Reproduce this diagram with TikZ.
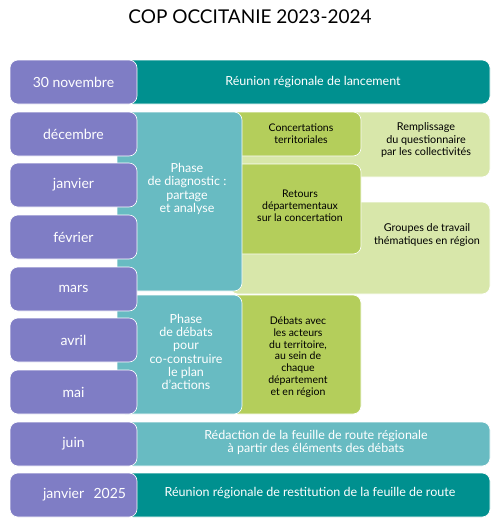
\documentclass[tikz,border=0pt]{standalone}
\usepackage{fontspec}
\setmainfont{Lato}
\definecolor{monthblue}{HTML}{7F7DC5}
\definecolor{darkteal}{HTML}{00908F}
\definecolor{lightteal}{HTML}{68BBC2}
\definecolor{leafgreen}{HTML}{B4CE5B}
\definecolor{palegreen}{HTML}{D8E7AA}
\begin{document}
\begin{tikzpicture}[x=1pt, y=-1pt]
    \tikzstyle{box} = [rectangle, rounded corners=8pt, draw=white, line width=0.6pt, inner sep=0pt]
    \tikzstyle{month} = [box, fill=monthblue, minimum width=127pt, minimum height=44pt, text=white, font=\fontsize{14}{16}\selectfont]
    \tikzstyle{bar} = [box, minimum width=365pt, minimum height=44pt]
    \tikzstyle{phase} = [box, fill=lightteal, minimum width=125pt]
    \tikzstyle{action} = [box, fill=leafgreen, minimum width=131pt]
    \tikzstyle{task} = [box, fill=palegreen, minimum width=260pt]
    \tikzstyle{whitetext} = [text=white, align=center, font=\fontsize{12.5}{13}\selectfont]
    \tikzstyle{blacktext} = [text=black, align=center, font=\fontsize{10.5}{11.8}\selectfont]

    \useasboundingbox (0,0) rectangle (500,531);
    \node [font=\fontsize{19}{22}\selectfont] (title) at (250,17) {COP OCCITANIE 2023-2024};

    % Pale green tasks (behind)
    \node [task, minimum height=65pt] (rempl) at (360,144.5) {};
    \node [task, minimum height=92pt] (groupes) at (360,248) {};
    \node [blacktext, font=\fontsize{10.8}{12.5}\selectfont] (rempltext) at (426,140) {Remplissage\\du questionnaire\\par les collectivités};
    \node [blacktext, font=\fontsize{10.8}{12.5}\selectfont] (groupestext) at (427,235) {Groupes de travail\\thématiques en région};

    % Green actions
    \node [action, minimum height=44pt] (concert) at (295.5,134) {};
    \node [action, minimum height=90pt] (retours) at (295.5,209) {};
    \node [action, minimum height=119pt] (debats) at (295.5,354.5) {};
    \node [blacktext] (concerttext) at (301,134) {Concertations\\territoriales};
    \node [blacktext] (retourstext) at (300,206) {Retours\\départementaux\\sur la concertation};
    \node [blacktext] (debatstext) at (298,357) {Débats avec\\les acteurs\\du territoire,\\au sein de\\chaque\\département\\et en région};

    % Bars and phases
    \node [bar, fill=darkteal] (lancement) at (307.5,82) {};
    \node [bar, fill=lightteal] (redaction) at (307.5,444) {};
    \node [bar, fill=darkteal] (restitution) at (307.5,495) {};
    \node [phase, minimum height=179pt] (diag) at (179.5,201.5) {};
    \node [phase, minimum height=119pt] (phasedebats) at (179.5,354.5) {};
    \node [whitetext] (lancementtext) at (313,82) {Réunion régionale de lancement};
    \node [whitetext] (redactiontext) at (316,442) {Rédaction de la feuille de route régionale\\à partir des éléments des débats};
    \node [whitetext] (restitutiontext) at (310,493) {Réunion régionale de restitution de la feuille de route};
    \node [whitetext, font=\fontsize{12.5}{13.3}\selectfont] (diagtext) at (187,189) {Phase\\de diagnostic :\\partage\\et analyse};
    \node [whitetext, font=\fontsize{12.5}{13.3}\selectfont] (phasedebatstext) at (186,352) {Phase\\de débats\\pour\\co-construire\\le plan\\d’actions};

    % Months
    \node [month] (nov) at (73.5,82) {30 novembre};
    \node [month] (dec) at (73.5,134) {décembre};
    \node [month] (jan) at (73.5,185) {janvier};
    \node [month] (feb) at (73.5,237) {février};
    \node [month] (mar) at (73.5,289) {mars};
    \node [month] (apr) at (73.5,340) {avril};
    \node [month] (may) at (73.5,392) {mai};
    \node [month] (jun) at (73.5,444) {juin};
    \node [month, text width=127pt, align=right, inner xsep=0pt] (jan25) at (73.5,495) {janvier~~2025\hspace*{11pt}};
\end{tikzpicture}
\end{document}
